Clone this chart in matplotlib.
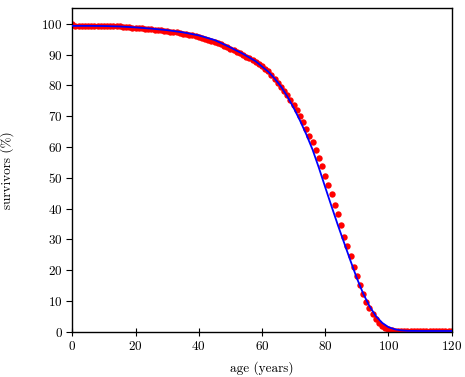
import matplotlib

matplotlib.use("Agg")
import matplotlib.pyplot as plt

plt.rcParams["font.family"] = "serif"
plt.rcParams["font.serif"] = ["cmr10", "DejaVu Serif"]
plt.rcParams["axes.formatter.use_mathtext"] = True

# observed survivors (%) at each age 0..120
ages = list(range(0, 121))
survivors = [
    100.0, 99.4, 99.35, 99.3, 99.3, 99.3, 99.3, 99.3, 99.3, 99.3,
    99.3, 99.3, 99.3, 99.25, 99.2, 99.15, 99.05, 98.95, 98.85, 98.75,
    98.65, 98.55, 98.45, 98.35, 98.25, 98.15, 98.05, 97.95, 97.85, 97.7,
    97.6, 97.45, 97.3, 97.15, 97.0, 96.8, 96.6, 96.4, 96.2, 95.95,
    95.7, 95.4, 95.1, 94.8, 94.5, 94.1, 93.7, 93.3, 92.8, 92.4,
    91.9, 91.4, 90.9, 90.4, 89.9, 89.3, 88.8, 88.2, 87.6, 86.9,
    86.2, 85.4, 84.6, 83.3, 82.0, 80.6, 79.3, 78.0, 76.7, 75.1,
    73.6, 72.0, 70.0, 68.0, 65.9, 63.7, 61.5, 58.9, 56.3, 53.7,
    50.7, 47.5, 44.6, 41.3, 38.1, 34.5, 30.9, 27.7, 24.5, 20.9,
    18.0, 15.2, 12.2, 9.7, 7.6, 5.7, 4.1, 2.9, 2.0, 1.3,
    0.8, 0.5, 0.3, 0.2, 0.15, 0.1, 0.1, 0.1, 0.1, 0.1,
    0.1, 0.1, 0.1, 0.1, 0.1, 0.1, 0.1, 0.1, 0.1, 0.1,
    0.1,
]

# fitted curve
fit_ages = [0, 5, 10, 15, 20, 25, 30, 35, 40, 45, 50, 54, 58, 62, 64, 66, 68, 70,
            72, 74, 76, 78, 80, 82, 84, 86, 88, 90, 92, 94, 96, 98, 100, 102,
            104, 106, 110, 120]
fit_survivors = [99.3, 99.3, 99.25, 99.1, 98.8, 98.4, 97.9, 97.2, 96.2, 94.7,
                 92.3, 90.2, 87.8, 84.4, 82.2, 79.6, 76.4, 72.7, 68.6, 64.1,
                 59.1, 53.2, 46.9, 40.7, 34.6, 28.8, 23.0, 17.4, 12.4, 8.3,
                 5.1, 2.9, 1.5, 0.8, 0.45, 0.3, 0.25, 0.25]

fig = plt.figure(figsize=(4.65, 3.77), dpi=100)
ax = fig.add_axes([0.1555, 0.12, 0.8159, 0.858])
ax.plot(ages, survivors, "o", color="#ff0000", markersize=4.6, markeredgewidth=0, zorder=2)
ax.plot(fit_ages, fit_survivors, "-", color="#0000ff", linewidth=1.3, zorder=3)

ax.set_xlim(0, 120)
ax.set_ylim(0, 105)
ax.set_xticks(range(0, 121, 20))
ax.set_yticks(range(0, 101, 10))
ax.tick_params(labelsize=9.5, length=4, width=0.8, pad=3)
ax.tick_params(axis="x", direction="inout", length=6)
for s in ax.spines.values():
    s.set_linewidth(1.0)
ax.set_xlabel("age (years)", fontsize=9.5, labelpad=6)
ax.set_ylabel("survivors (%)", fontsize=9.5, labelpad=20)

fig.savefig("out.png", dpi=100)
